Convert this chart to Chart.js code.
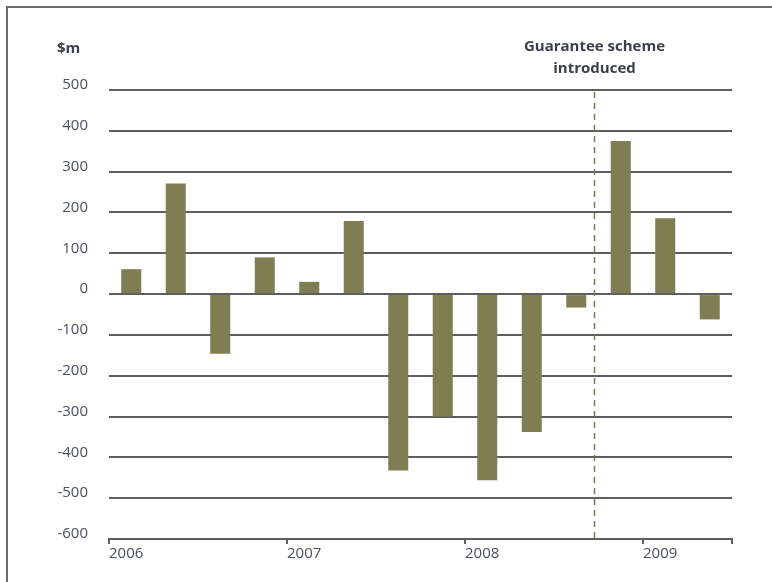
<!DOCTYPE html>
<html>
<head>
<meta charset="utf-8">
<script src="https://cdn.jsdelivr.net/npm/chart.js@4/dist/chart.umd.min.js"></script>
<style>
  html, body { margin: 0; padding: 0; background: #fff; }
  #wrap { position: relative; width: 772px; height: 582px; overflow: hidden; }
  #frame { position: absolute; left: 6px; top: 6px; width: 800px; height: 700px;
           border-top: 2px solid #6a6a6a; border-left: 2px solid #6a6a6a; }
  #unit { position: absolute; left: 57px; top: 37px; font: bold 15px "Open Sans", sans-serif; color: #3a3f4a; }
  canvas { position: absolute; left: 0; top: 0; }
</style>
</head>
<body>
<div id="wrap">
  <div id="frame"></div>
  <canvas id="c" width="772" height="582"></canvas>
  <div id="unit">$m</div>
</div>
<script>
// Quarterly values, 2006 Q1 .. 2009 Q2 ($m)
const quarters = ["2006 Q1","2006 Q2","2006 Q3","2006 Q4","2007 Q1","2007 Q2","2007 Q3","2007 Q4",
                  "2008 Q1","2008 Q2","2008 Q3","2008 Q4","2009 Q1","2009 Q2"];
const values = [61, 271, -146, 90, 30, 179, -432, -300, -456, -338, -33, 375, 186, -62];
const yearLabels = ["2006", "2007", "2008", "2009"];
const yTicks = [500, 400, 300, 200, 100, 0, -100, -200, -300, -400, -500, -600];
const annotationPosition = 10.9;   // in quarters from start of 2006
const annotationText = ["Guarantee scheme", "introduced"];

const barColor = "rgb(128,125,82)";
const gridColor = "#5e5e5e";
const textColor = "#4a4f5c";
const fontFamily = "'Open Sans', sans-serif";

const points = values.map((v, i) => ({ x: i + 0.5, y: v }));

const annotationPlugin = {
  id: "annot",
  afterDatasetsDraw(chart) {
    const { ctx, scales: { x, y } } = chart;
    const px = Math.round(x.getPixelForValue(annotationPosition)) + 0.5;
    ctx.save();
    ctx.strokeStyle = "#7d7a50";
    ctx.lineWidth = 1.5;
    ctx.setLineDash([6, 5]);
    ctx.beginPath();
    ctx.moveTo(px, y.getPixelForValue(500) + 2);
    ctx.lineTo(px, y.getPixelForValue(-600));
    ctx.stroke();
    ctx.setLineDash([]);
    ctx.fillStyle = "#3a3f4a";
    ctx.font = "bold 15px " + fontFamily;
    ctx.textAlign = "center";
    ctx.textBaseline = "middle";
    ctx.fillText(annotationText[0], px, 47);
    ctx.fillText(annotationText[1], px, 69);
    ctx.restore();
  }
};

new Chart(document.getElementById("c"), {
  type: "bar",
  data: {
    datasets: [{
      label: "$m",
      data: points,
      backgroundColor: barColor,
      borderWidth: 0,
      barPercentage: 0.9,
      categoryPercentage: 0.5
    }]
  },
  options: {
    responsive: false,
    animation: false,
    devicePixelRatio: 1,
    layout: { padding: { left: 0, top: 90, right: 40, bottom: 0 } },
    plugins: { legend: { display: false }, tooltip: { enabled: false } },
    scales: {
      x: {
        type: "linear",
        min: 0,
        max: 14,
        offset: false,
        afterFit(s) { s.height = 43; },
        afterBuildTicks(s) { s.ticks = [0, 4, 8, 12, 14].map(v => ({ value: v })); },
        grid: { offset: false, drawOnChartArea: false, drawTicks: true, tickLength: 5, color: gridColor, lineWidth: 2 },
        border: { display: true, color: gridColor, width: 2 },
        ticks: {
          align: "start",
          padding: 1,
          color: textColor,
          font: { family: fontFamily, size: 15 },
          maxRotation: 0,
          autoSkip: false,
          callback: (v) => { const i = v / 4; return Number.isInteger(i) && i < yearLabels.length ? yearLabels[i] : ""; }
        }
      },
      y: {
        min: -600,
        max: 500,
        afterFit(s) { s.width = 109; },
        afterBuildTicks(s) { s.ticks = yTicks.map(v => ({ value: v })); },
        grid: { drawTicks: false, color: gridColor, lineWidth: 2 },
        border: { display: false },
        ticks: {
          padding: 21,
          labelOffset: -5,
          color: textColor,
          font: { family: fontFamily, size: 15 },
          callback: (v) => String(v)
        }
      }
    }
  },
  plugins: [annotationPlugin]
});
</script>
</body>
</html>
